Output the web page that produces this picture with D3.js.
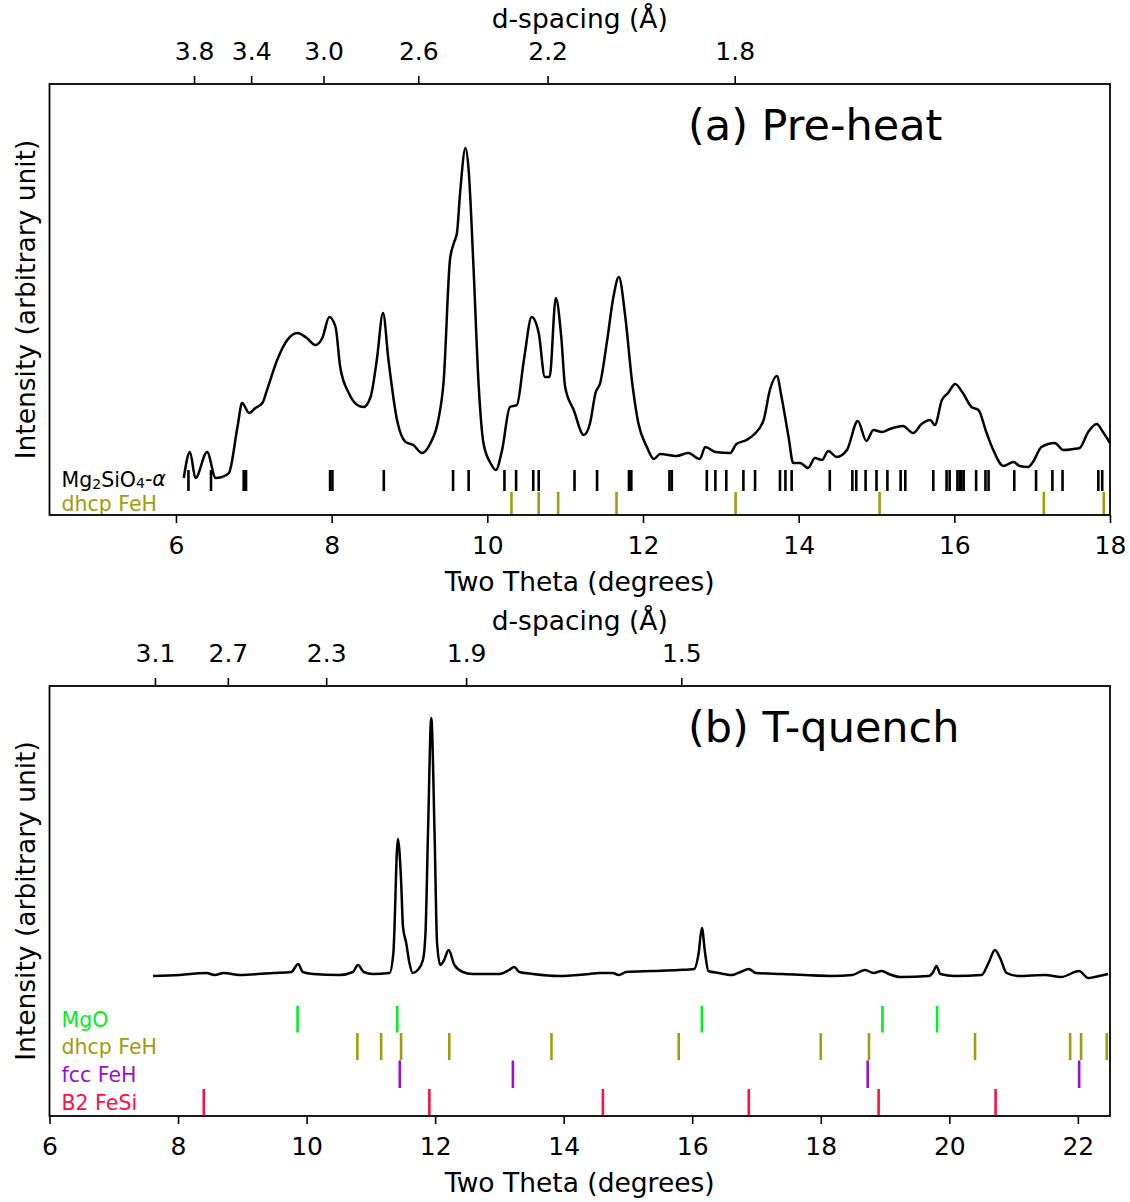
<!DOCTYPE html>
<html>
<head>
<meta charset="utf-8">
<script src="https://cdn.jsdelivr.net/npm/d3@7"></script>
<style>
  body { margin: 0; background: #fff; }
  svg text { font-family: "DejaVu Sans", sans-serif; fill: #000; }
</style>
</head>
<body>
<svg id="chart" width="1130" height="1202"></svg>
<script>
// wavelength used for the d-spacing axis (Angstrom)
var wavelength = 0.4131;

// (a) Pre-heat pattern
var preheatTwoTheta = [6.10,6.18,6.25,6.40,6.51,6.59,6.68,6.79,6.85,6.94,7.02,7.11,7.17,7.30,7.43,7.56,7.68,7.79,7.88,7.97,
  8.05,8.11,8.22,8.33,8.41,8.50,8.58,8.66,8.73,8.84,8.95,9.05,9.16,9.27,9.37,9.44,9.52,9.57,9.61,9.65,9.72,9.76,9.82,9.89,9.95,
  10.04,10.11,10.19,10.29,10.38,10.47,10.57,10.66,10.74,10.80,10.88,10.95,11.00,11.11,11.24,11.32,11.39,11.45,11.54,11.62,11.69,
  11.77,11.86,11.94,12.05,12.14,12.22,12.43,12.58,12.73,12.80,12.93,13.12,13.20,13.33,13.42,13.55,13.63,13.72,13.78,13.87,13.93,
  14.02,14.12,14.21,14.30,14.38,14.49,14.62,14.76,14.87,14.96,15.07,15.17,15.34,15.47,15.58,15.69,15.75,15.84,15.92,16.01,16.11,
  16.22,16.31,16.41,16.50,16.63,16.76,16.84,16.95,17.01,17.12,17.29,17.40,17.53,17.61,17.72,17.83,17.91,18.00];
var preheatIntensity = [37,63,37,63,37,38,42,88,112,102,107,112,125,155,175,182,177,170,177,198,
  188,148,122,110,108,118,155,202,155,95,73,70,62,72,95,135,255,272,282,322,367,345,252,128,72,
  52,45,65,108,110,155,198,182,138,138,217,178,128,105,80,92,122,132,175,218,238,
  200,133,92,68,56,61,59,62,56,68,63,62,71,75,80,95,125,139,118,78,52,
  52,47,57,55,64,58,65,94,74,85,83,86,89,82,91,95,90,115,122,131,122,
  108,105,83,65,49,53,49,48,53,68,72,65,66,67,83,91,83,72];

var mg2sio4Peaks = [6.16,6.45,6.87,6.90,7.98,8.01,8.67,9.56,9.76,10.22,10.37,10.59,10.66,11.12,11.41,11.82,11.85,
  12.34,12.37,12.82,12.93,13.07,13.29,13.44,13.76,13.83,13.91,14.40,14.69,14.74,14.86,15.00,15.14,15.31,15.37,
  15.73,15.90,15.94,16.04,16.07,16.09,16.12,16.28,16.40,16.44,16.77,17.05,17.26,17.39,17.85,17.90];
var dhcpPeaksA = [10.31,10.66,10.91,11.66,13.19,15.04,17.15,17.92];

// (b) T-quench pattern
var quenchTwoTheta = [7.61,8.03,8.44,8.57,8.71,8.96,9.48,9.76,9.87,9.94,10.10,10.51,10.72,10.80,10.89,11.03,11.29,11.35,
  11.42,11.47,11.50,11.55,11.60,11.65,11.73,11.81,11.85,11.89,11.94,11.99,12.03,12.08,12.14,12.21,12.30,12.43,12.58,
  13.00,13.15,13.23,13.31,13.52,13.93,14.40,14.55,14.76,14.86,14.97,15.38,15.79,16.03,16.10,16.15,16.20,16.25,16.41,
  16.62,16.75,16.88,16.99,17.40,18.17,18.49,18.69,18.82,18.95,19.06,19.24,19.68,19.75,19.80,19.86,20.09,20.50,20.61,
  20.71,20.79,20.89,21.07,21.49,21.74,22.02,22.16,22.26,22.47];
var quenchIntensity = [140,141,143,141,143,141,143,144,152,144,142,141,144,151,144,142,143,163,
  277,236,189,173,153,143,146,156,183,286,398,286,173,151,156,166,151,144,142,
  142,146,149,144,142,140,142,143,143,141,144,145,146,147,163,188,163,145,143,
  141,144,147,143,142,140,141,146,143,145,142,139,140,144,150,142,140,141,153,
  166,158,143,140,141,139,145,138,139,142];

var mgoPeaks = [9.86,11.41,16.15,18.96,19.81];
var dhcpPeaksB = [10.79,11.16,11.47,12.22,13.81,15.79,18.00,18.75,20.40,21.88,22.05,22.45];
var fccPeaks = [11.45,13.21,18.73,22.02];
var b2Peaks = [8.40,11.91,14.61,16.88,18.90,20.72];

var dTicksA = [3.8, 3.4, 3.0, 2.6, 2.2, 1.8];
var dTicksB = [3.1, 2.7, 2.3, 1.9, 1.5];
var xTicksA = [6, 8, 10, 12, 14, 16, 18];
var xTicksB = [6, 8, 10, 12, 14, 16, 18, 20, 22];

var svg = d3.select("#chart");
var left = 49.5, right = 1110;

function twoTheta(d) {
    return 2 * Math.asin(wavelength / (2 * d)) * 180 / Math.PI;
}

function drawPanel(p) {
    var x = d3.scaleLinear().domain(p.xDomain).range([left, right]);
    var y = d3.scaleLinear().domain([0, p.yMax]).range([p.bottom, p.top]);

    var g = svg.append("g");

    // phase reflection markers
    p.phases.forEach(function(ph) {
        g.append("g").selectAll("line")
            .data(ph.peaks)
            .enter().append("line")
            .attr("x1", function(d) { return x(d); })
            .attr("x2", function(d) { return x(d); })
            .attr("y1", y(ph.lo))
            .attr("y2", y(ph.hi))
            .attr("stroke", ph.color)
            .attr("stroke-width", 2.6);

        var t = g.append("text")
            .attr("x", left + 12)
            .attr("y", y((ph.lo + ph.hi) / 2))
            .attr("dy", "0.36em")
            .style("font-size", "20.5px")
            .style("fill", ph.color);
        if (ph.name == "mg2sio4") {
            t.attr("dy", "0.3em");
            t.append("tspan").text("Mg");
            t.append("tspan").text("2").style("font-size", "14px").attr("dy", "0.18em");
            t.append("tspan").text("SiO").attr("dy", "-0.12em");
            t.append("tspan").text("4").style("font-size", "14px").attr("dy", "0.12em");
            t.append("tspan").text("-").attr("dy", "-0.12em");
            t.append("tspan").text("\u03b1").style("font-style", "italic");
        } else {
            t.text(ph.name);
        }
    });

    // pattern
    var line = d3.line()
        .x(function(d) { return x(d[0]); })
        .y(function(d) { return y(d[1]); })
        .curve(d3.curveMonotoneX);

    g.append("path")
        .datum(d3.zip(p.theta, p.intensity))
        .attr("fill", "none")
        .attr("stroke", "#000")
        .attr("stroke-width", 2.5)
        .attr("stroke-linejoin", "round")
        .attr("d", line);

    // frame
    g.append("rect")
        .attr("x", left).attr("y", p.top)
        .attr("width", right - left).attr("height", p.bottom - p.top)
        .attr("fill", "none").attr("stroke", "#000").attr("stroke-width", 1.8);

    // bottom axis
    var xAxis = d3.axisBottom(x).tickValues(p.xTicks).tickSizeOuter(0).tickSize(8).tickPadding(13)
        .tickFormat(d3.format("d"));
    var ax = g.append("g").attr("transform", "translate(0," + p.bottom + ")").call(xAxis);
    ax.select(".domain").remove();
    ax.selectAll("line").attr("stroke-width", 1.6);
    ax.selectAll("text").style("font-size", "25px").attr("font-family", null);

    // top d-spacing axis
    var dAxis = d3.axisTop(x).tickValues(p.dTicks.map(twoTheta)).tickSizeOuter(0).tickSize(8).tickPadding(16)
        .tickFormat(function(d, i) { return d3.format(".1f")(p.dTicks[i]); });
    var at = g.append("g").attr("transform", "translate(0," + p.top + ")").call(dAxis);
    at.select(".domain").remove();
    at.selectAll("line").attr("stroke-width", 1.6);
    at.selectAll("text").style("font-size", "25px").attr("font-family", null);

    // labels
    g.append("text")
        .attr("x", (left + right) / 2).attr("y", p.bottom + 66)
        .attr("dy", "0.36em")
        .attr("text-anchor", "middle")
        .style("font-size", "26.5px")
        .text("Two Theta (degrees)");

    g.append("text")
        .attr("x", (left + right) / 2).attr("y", p.top - 66)
        .attr("dy", "0.36em")
        .attr("text-anchor", "middle")
        .style("font-size", "26.5px")
        .text("d-spacing (\u00c5)");

    g.append("text")
        .attr("transform", "translate(25," + (p.top + p.bottom) / 2 + ") rotate(-90)")
        .attr("dy", "0.36em")
        .attr("text-anchor", "middle")
        .style("font-size", "26.5px")
        .text("Intensity (arbitrary unit)");

    g.append("text")
        .attr("x", 688).attr("y", p.top + 41)
        .attr("dy", "0.36em")
        .style("font-size", "43px")
        .text(p.title);
}

drawPanel({
    title: "(a) Pre-heat",
    xDomain: [4.375, 18], top: 84, bottom: 515, yMax: 431,
    theta: preheatTwoTheta, intensity: preheatIntensity,
    xTicks: xTicksA, dTicks: dTicksA,
    phases: [
        {name: "mg2sio4", peaks: mg2sio4Peaks, lo: 24, hi: 45, color: "#000"},
        {name: "dhcp FeH", peaks: dhcpPeaksA, lo: 0, hi: 23, color: "#a09c0c"}
    ]
});

drawPanel({
    title: "(b) T-quench",
    xDomain: [6, 22.5], top: 686, bottom: 1116, yMax: 430,
    theta: quenchTwoTheta, intensity: quenchIntensity,
    xTicks: xTicksB, dTicks: dTicksB,
    phases: [
        {name: "MgO", peaks: mgoPeaks, lo: 83.5, hi: 110, color: "#00ee22"},
        {name: "dhcp FeH", peaks: dhcpPeaksB, lo: 56, hi: 83, color: "#a09c0c"},
        {name: "fcc FeH", peaks: fccPeaks, lo: 28, hi: 55.5, color: "#9a10d0"},
        {name: "B2 FeSi", peaks: b2Peaks, lo: 0, hi: 27, color: "#ff1040"}
    ]
});
</script>
</body>
</html>
